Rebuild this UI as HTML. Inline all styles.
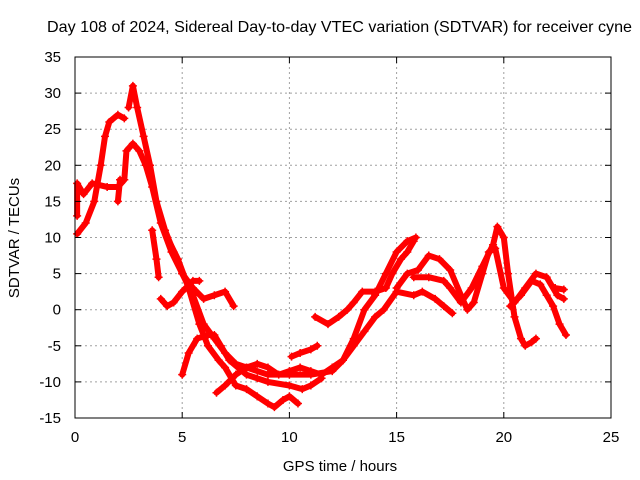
<!DOCTYPE html>
<html><head><meta charset="utf-8"><style>
body{margin:0;background:#fff}
svg{display:block;font-family:"Liberation Sans",sans-serif}
</style></head><body>
<svg id="chart" width="640" height="480" viewBox="0 0 640 480" xmlns="http://www.w3.org/2000/svg">
<rect width="640" height="480" fill="#fff"/>
<text x="47" y="32" font-size="16" textLength="585" lengthAdjust="spacingAndGlyphs" fill="#000">Day 108 of 2024, Sidereal Day-to-day VTEC variation (SDTVAR) for receiver cyne</text>
<g id="grid"></g>
<g id="series"></g>
<g id="axes"></g>
<text x="340" y="471" font-size="15" text-anchor="middle">GPS time / hours</text>
<text transform="translate(19,238) rotate(-90)" font-size="15" text-anchor="middle">SDTVAR / TECUs</text>
</svg>
<script>
const xTicks=[0,5,10,15,20,25];
const yTicks=[-15,-10,-5,0,5,10,15,20,25,30,35];
const s1=[[0.1,10.5],[0.5,12],[0.9,15],[1.2,20],[1.4,24],[1.6,26],[2,27],[2.3,26.5]];
const s2=[[2.5,28],[2.7,31],[2.9,28],[3.2,24],[3.5,20],[3.8,15],[4.2,11],[4.6,8],[5,5],[5.5,2],[6,-2],[6.5,-4],[7,-6],[7.5,-7.5],[8,-8],[9,-9],[10,-9],[11,-9],[12,-8.5],[12.5,-7],[13,-4],[13.5,0],[14,2],[14.5,5],[15,8],[15.5,9.5],[15.9,10]];
const s3=[[0.1,13],[0.1,17.5],[0.4,16],[0.8,17.5],[1.5,17],[2,17],[2.3,18],[2.4,22],[2.7,23],[3,22],[3.3,20],[3.6,17],[4,12],[4.5,8],[5,5],[5.5,3],[6,1.5],[6.5,2],[7,2.5],[7.4,0.5]];
const s4=[[4.3,10],[4.8,7],[5.3,3],[5.8,-2],[6.2,-5],[6.7,-7],[7,-8],[7.5,-10.5],[8,-11],[8.5,-12],[9,-13],[9.3,-13.5],[9.7,-12.5],[10,-12],[10.4,-13]];
const s5=[[5,-9],[5.3,-6],[5.7,-4],[6.2,-3.5],[6.5,-3.5],[6.8,-5],[7.2,-7],[8,-9],[8.5,-9.5],[9,-10],[10,-10.5],[10.6,-11],[11,-10.5],[11.5,-9.5]];
const s6=[[6.6,-11.5],[7,-10.5],[7.5,-9],[8,-8],[8.5,-7.5],[9,-8],[9.5,-9],[10,-8.5],[10.5,-8],[11,-8.5],[11.5,-9],[12,-8],[12.5,-7],[13,-5],[13.5,-3],[14,-1],[14.4,0],[15,2.5],[15.8,2],[16.2,2.5],[16.8,1.5],[17.2,0.5],[17.6,-0.5]];
const s7=[[10.1,-6.5],[10.5,-6],[11,-5.5],[11.3,-5]];
const s8=[[11.2,-1],[11.8,-2],[12.3,-1],[12.7,0],[13,1],[13.4,2.5],[14,2.5],[14.5,3],[14.8,5],[15.2,7],[15.5,8],[15.8,9.5]];
const s9=[[15,3],[15.5,5],[16,5.5],[16.5,7.5],[17,7],[17.5,5.5],[18,2],[18.3,0],[18.6,1],[19,5],[19.3,8],[19.6,8.5],[20,3],[20.5,1],[21,3],[21.5,5],[22,4.5],[22.5,2],[22.8,1.5]];
const s10=[[15.8,4.5],[16.5,4.5],[17.2,4],[17.5,3],[18,1],[18.5,3],[19,6],[19.5,9],[19.7,11.5],[20,10],[20.2,5],[20.5,-1],[20.8,-4],[21,-5],[21.3,-4.5],[21.5,-4]];
const s11=[[20.3,0.5],[20.8,2],[21.3,4],[21.7,3.5],[22,2],[22.3,0.5],[22.6,-2],[22.9,-3.5]];
const s12=[[22.4,3],[22.8,2.8]];
const s13=[[3.6,11],[3.8,7],[3.9,4.5]];
const s14=[[4,1.5],[4.3,0.5],[4.6,1],[5,2.5],[5.5,4],[5.8,4]];
const s15=[[2,15],[2.1,18]];
const allSeries=[s1,s2,s3,s4,s5,s6,s7,s8,s9,s10,s11,s12,s13,s14,s15];
const X0=75,X1=611,Y0=418,Y1=57;
const xs=t=>X0+(t-0)/(25-0)*(X1-X0);
const ys=v=>Y0-(v+15)/(50)*(Y0-Y1);
const NS="http://www.w3.org/2000/svg";
function mk(tag,at,parent){const e=document.createElementNS(NS,tag);for(const k in at)e.setAttribute(k,at[k]);parent.appendChild(e);return e;}
const grid=document.getElementById('grid'),axes=document.getElementById('axes'),ser=document.getElementById('series');
xTicks.forEach(t=>{
  if(t>0&&t<25){const g=mk('line',{x1:xs(t),x2:xs(t),y1:Y1,y2:Y0,stroke:'#a0a0a0','stroke-dasharray':'2,3'},grid);
  
  }
  const tk=mk('line',{x1:xs(t),x2:xs(t),y1:Y0,y2:Y0-6,stroke:'#000'},axes);
  
  
  const tk2=mk('line',{x1:xs(t),x2:xs(t),y1:Y1,y2:Y1+6,stroke:'#000'},axes);
  
  
  const l=mk('text',{x:xs(t),y:Y0+24,'font-size':15,'text-anchor':'middle'},axes);l.textContent=t;
  
  
});
yTicks.forEach(v=>{
  if(v>-15&&v<35){const g=mk('line',{x1:X0,x2:X1,y1:ys(v),y2:ys(v),stroke:'#a0a0a0','stroke-dasharray':'2,3'},grid);
  
  }
  const tk=mk('line',{x1:X0,x2:X0+6,y1:ys(v),y2:ys(v),stroke:'#000'},axes);
  
  
  const tk2=mk('line',{x1:X1,x2:X1-6,y1:ys(v),y2:ys(v),stroke:'#000'},axes);
  
  
  const l=mk('text',{x:X0-14,y:ys(v)+5,'font-size':15,'text-anchor':'end'},axes);l.textContent=v;
  
  
});
const fr=mk('rect',{x:X0,y:Y1,width:X1-X0,height:Y0-Y1,fill:'none',stroke:'#000'},axes);


allSeries.forEach((s,i)=>{
  const pl=mk('polyline',{points:s.map(p=>xs(p[0])+','+ys(p[1])).join(' '),fill:'none',stroke:'#ff0000','stroke-width':6,'stroke-linejoin':'round','stroke-linecap':'round'},ser);
  
  
  s.forEach(p=>{
    const x=xs(p[0]),y=ys(p[1]);
    const m=mk('path',{d:`M${x-4},${y}H${x+4}M${x},${y-4}V${y+4}`,stroke:'#ff0000','stroke-width':1.5},ser);
    
    
  });
});
</script>
</body></html>
